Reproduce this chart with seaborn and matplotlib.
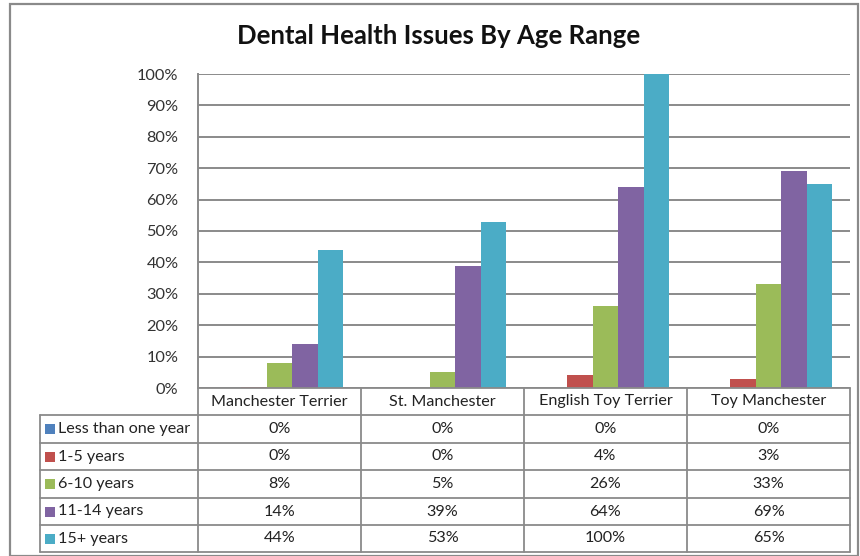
import matplotlib
matplotlib.use("Agg")
import matplotlib.pyplot as plt
from matplotlib.lines import Line2D
from matplotlib.patches import Rectangle
import seaborn as sns
import pandas as pd

# Data
breeds = ["Manchester Terrier", "St. Manchester", "English Toy Terrier", "Toy Manchester"]
age_ranges = ["Less than one year", "1-5 years", "6-10 years", "11-14 years", "15+ years"]
less_than_one = [0, 0, 0, 0]
one_to_five = [0.45, 0, 4, 3]
six_to_ten = [8, 5, 26, 33]
eleven_to_fourteen = [14, 39, 64, 69]
fifteen_plus = [44, 53, 100, 65]
y_ticks = [0, 10, 20, 30, 40, 50, 60, 70, 80, 90, 100]

series = [less_than_one, one_to_five, six_to_ten, eleven_to_fourteen, fifteen_plus]
colors = ["#4F81BD", "#C0504D", "#9BBB59", "#8064A2", "#4BACC6"]

rows = []
for age, vals in zip(age_ranges, series):
    for breed, v in zip(breeds, vals):
        rows.append({"Breed": breed, "Age": age, "Pct": v})
df = pd.DataFrame(rows)

sns.set_style("white")
plt.rcParams["font.family"] = ["Lato", "DejaVu Sans"]

W, H = 860, 556
fig = plt.figure(figsize=(W / 100, H / 100), dpi=100)

def fx(px):
    return px / W

def fy(py):
    return 1 - py / H

left, right, top, bottom = 198, 850, 74, 388
ax = fig.add_axes([fx(left), fy(bottom), fx(right - left), (bottom - top) / H])

sns.barplot(data=df, x="Breed", y="Pct", hue="Age", order=breeds, hue_order=age_ranges,
            palette=colors, width=0.78, saturation=1, linewidth=0, ax=ax, legend=False)

ax.set_xlim(-0.5, len(breeds) - 0.5)
ax.set_ylim(0, 100)
ax.set_yticks(y_ticks)
ax.set_yticklabels([f"{t}%" for t in y_ticks], fontsize=11.8, color="#333333")
ax.tick_params(axis="y", length=0, pad=14)
ax.set_xticks([])
ax.set_xlabel("")
ax.set_ylabel("")
ax.yaxis.grid(True, color="#8a8a8a", linewidth=1.4)
ax.set_axisbelow(True)
for s in ["top", "right", "bottom"]:
    ax.spines[s].set_visible(False)
ax.spines["left"].set_color("#8a8a8a")
ax.spines["left"].set_linewidth(1.4)

# Chart title
fig.text(fx(439), fy(36), "Dental Health Issues By Age Range", ha="center", va="center",
         fontsize=18.5, fontweight="bold", color="#111111")

# Outer chart border
fig.add_artist(Rectangle((fx(10), fy(556)), fx(848), (556 - 4) / H, fill=False,
                         edgecolor="#8a8a8a", linewidth=1.6, transform=fig.transFigure))

# Data table below the plot
line_kw = dict(color="#8a8a8a", linewidth=1.3, transform=fig.transFigure)
table_left = 40
row_edges = [388, 415, 443, 470, 498, 525, 552]
col_w = (right - left) / len(breeds)
col_edges = [left + i * col_w for i in range(len(breeds) + 1)]

fig.add_artist(Line2D([fx(left), fx(right)], [fy(row_edges[0])] * 2, **line_kw))
for r in row_edges[1:]:
    fig.add_artist(Line2D([fx(table_left), fx(right)], [fy(r)] * 2, **line_kw))
fig.add_artist(Line2D([fx(table_left)] * 2, [fy(row_edges[1]), fy(row_edges[-1])], **line_kw))
for c in col_edges:
    fig.add_artist(Line2D([fx(c)] * 2, [fy(row_edges[0]), fy(row_edges[-1])], **line_kw))

txt_kw = dict(fontsize=11.6, color="#222222", va="center")
for i, breed in enumerate(breeds):
    cx = (col_edges[i] + col_edges[i + 1]) / 2
    fig.text(fx(cx), fy((row_edges[0] + row_edges[1]) / 2), breed, ha="center", **txt_kw)

for j, (age, vals, col) in enumerate(zip(age_ranges, series, colors)):
    cy = (row_edges[j + 1] + row_edges[j + 2]) / 2
    fig.add_artist(Rectangle((fx(45), fy(cy + 5)), fx(10), 10 / H, facecolor=col,
                             edgecolor="none", transform=fig.transFigure))
    fig.text(fx(58), fy(cy), age, ha="left", **txt_kw)
    for i, v in enumerate(vals):
        cx = (col_edges[i] + col_edges[i + 1]) / 2
        fig.text(fx(cx), fy(cy), f"{round(v)}%", ha="center", **txt_kw)

fig.savefig("out.png", dpi=100, facecolor="white")
